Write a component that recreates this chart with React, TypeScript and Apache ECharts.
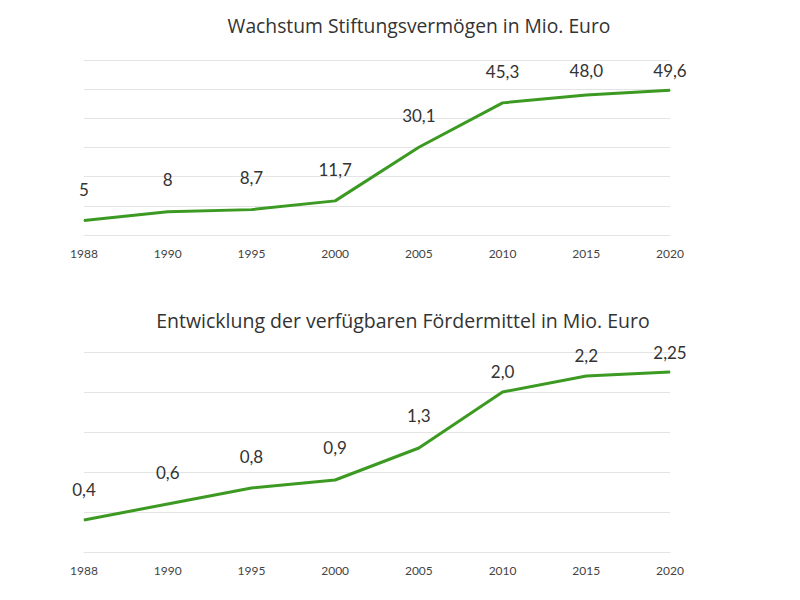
import React, { useEffect, useRef } from "react";
import * as echarts from "echarts";

const years = ["1988", "1990", "1995", "2000", "2005", "2010", "2015", "2020"];
const vermoegen = [5, 8, 8.7, 11.7, 30.1, 45.3, 48.0, 49.6];
const vermoegenLabels = ["5", "8", "8,7", "11,7", "30,1", "45,3", "48,0", "49,6"];
const foerdermittel = [0.4, 0.6, 0.8, 0.9, 1.3, 2.0, 2.2, 2.25];
const foerdermittelLabels = ["0,4", "0,6", "0,8", "0,9", "1,3", "2,0", "2,2", "2,25"];
const title1 = "Wachstum Stiftungsvermögen in Mio. Euro";
const title2 = "Entwicklung der verfügbaren Fördermittel in Mio. Euro";

const GREEN = "#3c9a22";
const TEXT = "#333333";

export default function App() {
  const ref = useRef<HTMLDivElement>(null);
  useEffect(() => {
    if (!ref.current) return;
    const chart = echarts.init(ref.current, null, { renderer: "svg" });
    const gaps1 = [22, 23, 23, 22, 23, 22, 16, 11];
    const gaps2 = [22, 23, 23, 24, 24, 12, 12, 11];
    const mk = (vals: number[], labels: string[], gaps: number[]) =>
      vals.map((v, i) => ({
        value: v,
        label: { formatter: labels[i], distance: gaps[i] },
      }));
    const xAxisBase = {
      type: "category" as const,
      data: years,
      boundaryGap: false,
      axisLine: { show: true, lineStyle: { color: "#e4e4e4", width: 1 } },
      axisTick: { show: false },
      axisLabel: { color: "#444", fontSize: 12, fontFamily: "Lato", margin: 12 },
    };
    const yAxisBase = {
      type: "value" as const,
      axisLabel: { show: false },
      axisLine: { show: false },
      axisTick: { show: false },
      splitLine: { lineStyle: { color: "#e4e4e4", width: 1 } },
    };
    const seriesBase = {
      type: "line" as const,
      symbol: "circle",
      symbolSize: 1,
      showSymbol: true,
      itemStyle: { color: GREEN },
      lineStyle: { color: GREEN, width: 3 },
      label: {
        show: true,
        position: "top" as const,
        color: TEXT,
        fontSize: 17,
        fontFamily: "Lato",
      },
    };
    chart.setOption({
      animation: false,
      backgroundColor: "#ffffff",
      title: [
        {
          text: title1,
          left: 419,
          textAlign: "center",
          top: 16,
          textStyle: { color: TEXT, fontSize: 19.3, fontWeight: "normal", fontFamily: "Open Sans" },
          padding: 0,
        },
        {
          text: title2,
          left: 403,
          textAlign: "center",
          top: 310,
          textStyle: { color: TEXT, fontSize: 19.5, fontWeight: "normal", fontFamily: "Open Sans" },
          padding: 0,
        },
      ],
      grid: [
        { left: 84, right: 130, top: 60, height: 175 },
        { left: 84, right: 130, top: 352, height: 200 },
      ],
      xAxis: [
        { ...xAxisBase, gridIndex: 0 },
        { ...xAxisBase, gridIndex: 1 },
      ],
      yAxis: [
        { ...yAxisBase, gridIndex: 0, min: 0, max: 60, interval: 10 },
        { ...yAxisBase, gridIndex: 1, min: 0, max: 2.5, interval: 0.5 },
      ],
      series: [
        { ...seriesBase, xAxisIndex: 0, yAxisIndex: 0, data: mk(vermoegen, vermoegenLabels, gaps1) },
        { ...seriesBase, xAxisIndex: 1, yAxisIndex: 1, data: mk(foerdermittel, foerdermittelLabels, gaps2) },
      ],
    });
    return () => chart.dispose();
  }, []);
  return (
    <div
      ref={ref}
      style={{ position: "absolute", left: 0, top: 0, width: 800, height: 600 }}
    />
  );
}
